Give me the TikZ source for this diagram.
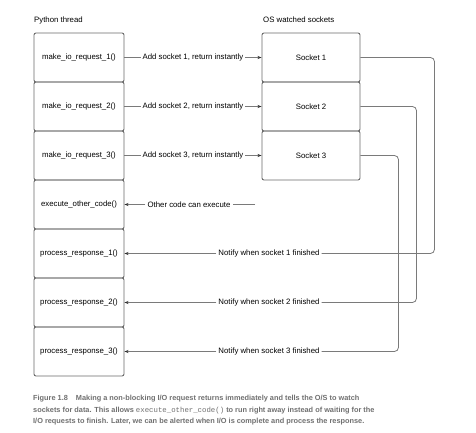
\documentclass[tikz,border=0pt]{standalone}
\usepackage{fontspec}
\setmainfont{Liberation Sans}
\setmonofont{Liberation Mono}
\usetikzlibrary{arrows.meta}
\definecolor{boxline}{HTML}{6A6A6A}
\definecolor{conn}{HTML}{7A7A7A}
\definecolor{capcol}{HTML}{707070}
\tikzset{
  fbox/.style={draw=boxline, line width=0.9pt, rounded corners=2pt, minimum width=90pt, minimum height=49pt, inner sep=0pt, font=\fontsize{7.8}{9}\selectfont},
  sbox/.style={fbox, minimum width=98pt},
  lbl/.style={fill=white, inner sep=2pt, font=\fontsize{7.8}{9}\selectfont},
  conline/.style={draw=conn, line width=0.8pt},
  conarr/.style={conline, -{Stealth[length=4pt,width=3pt,color=black!80]}},
  hdr/.style={anchor=west, inner sep=0pt, font=\fontsize{7.8}{9}\selectfont},
  captext/.style={anchor=west, inner sep=0pt, text=capcol, font=\fontsize{7.35}{8}\selectfont\bfseries}
}
\begin{document}
\begin{tikzpicture}[x=1pt,y=-1pt]
\useasboundingbox[fill=white] (0,0) rectangle (476,433);
\node[hdr] (h1) at (34,20) {Python thread};
\node[hdr] (h2) at (263,20) {OS watched sockets};
\node[fbox] (m1) at (79,57.5) {make\_io\_request\_1()};
\node[fbox] (m2) at (79,106.5) {make\_io\_request\_2()};
\node[fbox] (m3) at (79,155.5) {make\_io\_request\_3()};
\node[fbox] (x4) at (79,204.5) {execute\_other\_code()};
\node[fbox] (p1) at (79,253.5) {process\_response\_1()};
\node[fbox] (p2) at (79,302.5) {process\_response\_2()};
\node[fbox] (p3) at (79,351.5) {process\_response\_3()};
\node[sbox] (s1) at (311,57.5) {Socket 1};
\node[sbox] (s2) at (311,106.5) {Socket 2};
\node[sbox] (s3) at (311,155.5) {Socket 3};
\node[lbl] (a1) at (193,57.5) {Add socket 1, return instantly};
\node[lbl] (a2) at (193,106.5) {Add socket 2, return instantly};
\node[lbl] (a3) at (193,155.5) {Add socket 3, return instantly};
\foreach \i/\m in {1/m1,2/m2,3/m3}{
  \draw[conline] (\m.east) -- (a\i.west);
  \draw[conarr] (a\i.east) -- (s\i.west);
}
\node[lbl] (oc) at (189,204.5) {Other code can execute};
\coordinate (oce) at (255,204.5);
\draw[conline] (oce) -- (oc.east);
\draw[conarr] (oc.west) -- (x4.east);
\node[lbl] (n1) at (269,253.5) {Notify when socket 1 finished};
\node[lbl] (n2) at (269,302.5) {Notify when socket 2 finished};
\node[lbl] (n3) at (269,351.5) {Notify when socket 3 finished};
\draw[conline, rounded corners=4pt] (s1.east) -- ++(74,0) |- (n1.east);
\draw[conline, rounded corners=4pt] (s2.east) -- ++(56,0) |- (n2.east);
\draw[conline, rounded corners=4pt] (s3.east) -- ++(38,0) |- (n3.east);
\draw[conarr] (n1.west) -- (p1.east);
\draw[conarr] (n2.west) -- (p2.east);
\draw[conarr] (n3.west) -- (p3.east);
\node[captext] (c1) at (33,399) {Figure 1.8\hspace{6pt} Making a non-blocking I/O request returns immediately and tells the O/S to watch};
\node[captext] (c2) at (33,410.5) {sockets for data. This allows {\ttfamily\mdseries execute\_other\_code()} to run right away instead of waiting for the};
\node[captext] (c3) at (33,421.5) {I/O requests to finish. Later, we can be alerted when I/O is complete and process the response.};
\end{tikzpicture}
\end{document}
